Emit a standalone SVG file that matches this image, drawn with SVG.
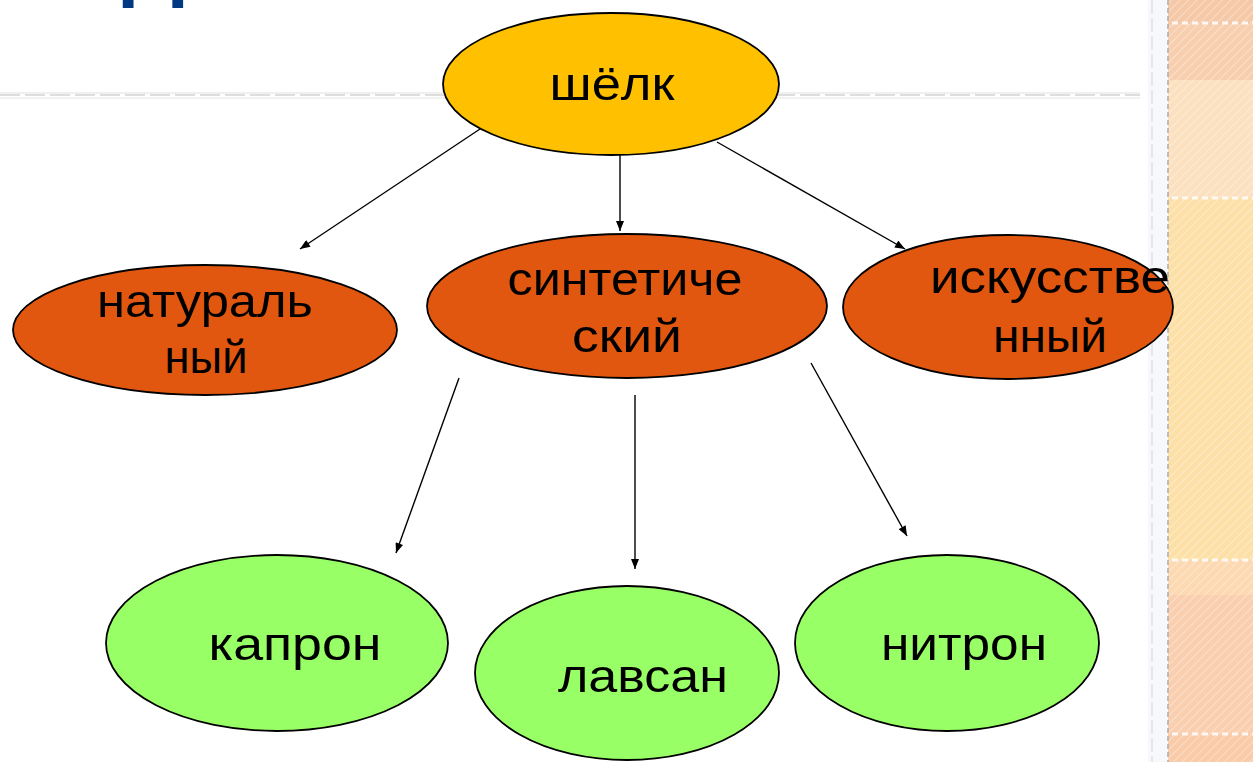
<svg xmlns="http://www.w3.org/2000/svg" width="1253" height="762" viewBox="0 0 1253 762">
<defs>
<style>
.node{stroke:#000;stroke-width:1.8}
.yel{fill:#FFC000}
.org{fill:#E2570F}
.grn{fill:#99FF66}
.lbl{font-family:"Liberation Sans",Arial,sans-serif;font-size:47px;fill:#000;text-anchor:middle}
.edge{stroke:#000;stroke-width:1.4;fill:none;marker-end:url(#arr)}
</style>
<marker id="arr" viewBox="0 0 10 8" refX="10" refY="4" markerWidth="11" markerHeight="8" markerUnits="userSpaceOnUse" orient="auto">
<path d="M0,0 L10,4 L0,8 Z" fill="#000"/>
</marker>
<pattern id="hatch" width="6" height="6" patternUnits="userSpaceOnUse" patternTransform="rotate(45)">
<rect width="6" height="6" fill="none"/>
<line x1="0" y1="0" x2="0" y2="6" stroke="#fff" stroke-width="2" opacity="0.35"/>
</pattern>
</defs>
<rect width="1253" height="762" fill="#fff"/>
<!-- background decoration -->
<text x="122" y="-9" style="font-family:'Liberation Sans',Arial,sans-serif;font-weight:bold;font-size:88px;fill:#003882">Д</text>
<line x1="0" y1="93" x2="1140" y2="93" stroke="#f0f0f0" stroke-width="2"/>
<line x1="0" y1="95" x2="1140" y2="95" stroke="#d4d4d4" stroke-width="1.5" stroke-dasharray="20,5"/>
<line x1="0" y1="98" x2="1140" y2="98" stroke="#f2f2f2" stroke-width="2"/>
<rect x="1148" y="0" width="20" height="762" fill="#f6f8fb"/>
<line x1="1152" y1="0" x2="1152" y2="762" stroke="#dcdcdc" stroke-width="1.2" stroke-dasharray="14,4"/>
<rect x="1168" y="0" width="85" height="24" fill="#F5C9A8"/>
<rect x="1168" y="24" width="85" height="56" fill="#F7CFAF"/>
<rect x="1168" y="80" width="85" height="118" fill="#FBE1BF"/>
<rect x="1168" y="198" width="85" height="362" fill="#FCE0A8"/>
<rect x="1168" y="560" width="85" height="35" fill="#FCD9B2"/>
<rect x="1168" y="595" width="85" height="140" fill="#FACFB0"/>
<rect x="1168" y="735" width="85" height="27" fill="#F9CBA9"/>
<rect x="1168" y="0" width="85" height="762" fill="url(#hatch)"/>
<g stroke="#fff" stroke-width="3" stroke-dasharray="6,4" opacity="0.85">
<line x1="1172" y1="23" x2="1253" y2="23"/>
<line x1="1172" y1="198" x2="1253" y2="198"/>
<line x1="1172" y1="560" x2="1253" y2="560"/>
<line x1="1172" y1="734" x2="1253" y2="734"/>
</g>
<line x1="1168" y1="0" x2="1168" y2="762" stroke="#b8b0a8" stroke-width="2" stroke-dasharray="5,3" opacity="0.8"/>

<g id="connectors">
<line class="edge" x1="489" y1="123" x2="300" y2="249"/>
<line class="edge" x1="620" y1="155" x2="620" y2="231"/>
<line class="edge" x1="717" y1="142" x2="905" y2="249"/>
<line class="edge" x1="459" y1="378" x2="396" y2="553"/>
<line class="edge" x1="635" y1="395" x2="635" y2="569"/>
<line class="edge" x1="811" y1="363" x2="907" y2="536"/>
</g>

<g id="silk">
<ellipse class="node yel" cx="611" cy="84" rx="168" ry="71"/>
<text class="lbl" x="612" y="100" textLength="125" lengthAdjust="spacingAndGlyphs">шёлк</text>
</g>
<g id="natural">
<ellipse class="node org" cx="205" cy="330" rx="192" ry="65"/>
<text class="lbl" x="205" y="317" textLength="216" lengthAdjust="spacingAndGlyphs">натураль</text>
<text class="lbl" x="206" y="373" textLength="83" lengthAdjust="spacingAndGlyphs">ный</text>
</g>
<g id="synthetic">
<ellipse class="node org" cx="627" cy="306" rx="200" ry="72"/>
<text class="lbl" x="625" y="295" textLength="235" lengthAdjust="spacingAndGlyphs">синтетиче</text>
<text class="lbl" x="627" y="352" textLength="110" lengthAdjust="spacingAndGlyphs">ский</text>
</g>
<g id="artificial">
<ellipse class="node org" cx="1008" cy="307" rx="165" ry="72"/>
<text class="lbl" x="1050" y="293" textLength="240" lengthAdjust="spacingAndGlyphs">искусстве</text>
<text class="lbl" x="1050" y="352" textLength="114" lengthAdjust="spacingAndGlyphs">нный</text>
</g>
<g id="kapron">
<ellipse class="node grn" cx="277" cy="643" rx="171" ry="88"/>
<text class="lbl" x="295" y="660" textLength="173" lengthAdjust="spacingAndGlyphs">капрон</text>
</g>
<g id="lavsan">
<ellipse class="node grn" cx="627" cy="673" rx="152" ry="87"/>
<text class="lbl" x="643" y="692" textLength="170" lengthAdjust="spacingAndGlyphs">лавсан</text>
</g>
<g id="nitron">
<ellipse class="node grn" cx="947" cy="643" rx="152" ry="88"/>
<text class="lbl" x="964" y="660" textLength="166" lengthAdjust="spacingAndGlyphs">нитрон</text>
</g>
</svg>
